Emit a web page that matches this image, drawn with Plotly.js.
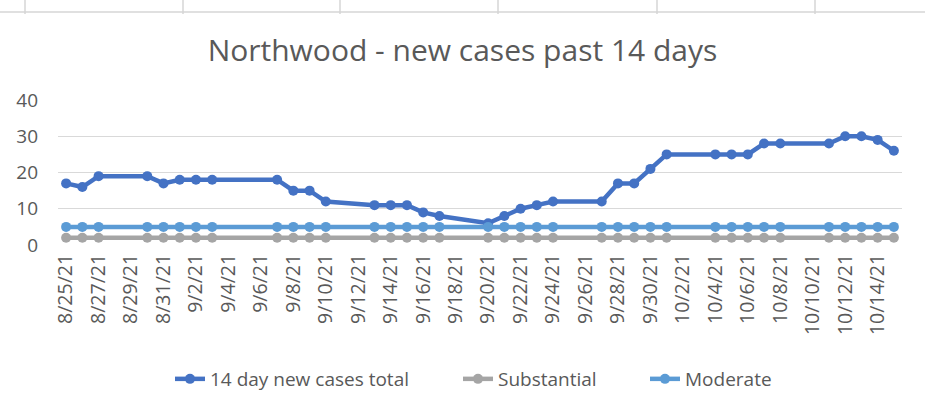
<!DOCTYPE html>
<html>
<head>
<meta charset="utf-8">
<script src="https://cdn.plot.ly/plotly-3.0.1.min.js"></script>
<style>html,body{margin:0;padding:0;background:#fff;}#chart{width:925px;height:411px;}</style>
</head>
<body>
<div id="chart"></div>
<script>
var dates = ['2021-08-25','2021-08-26','2021-08-27','2021-08-30','2021-08-31','2021-09-01','2021-09-02','2021-09-03',
  '2021-09-07','2021-09-08','2021-09-09','2021-09-10','2021-09-13','2021-09-14','2021-09-15','2021-09-16','2021-09-17',
  '2021-09-20','2021-09-21','2021-09-22','2021-09-23','2021-09-24','2021-09-27','2021-09-28','2021-09-29','2021-09-30',
  '2021-10-01','2021-10-04','2021-10-05','2021-10-06','2021-10-07','2021-10-08','2021-10-11','2021-10-12','2021-10-13',
  '2021-10-14','2021-10-15'];
var newCases = [17,16,19,19,17,18,18,18,18,15,15,12,11,11,11,9,8,6,8,10,11,12,12,17,17,21,25,25,25,25,28,28,28,30,30,29,26];
var substantial = dates.map(function(){return 2;});
var moderate = dates.map(function(){return 5;});
var seriesNames = ['14 day new cases total','Substantial','Moderate'];
var titleText = 'Northwood - new cases past 14 days';
var yTicks = [0,10,20,30,40];

var txt = '#595959';
var font = 'Open Sans, sans-serif';
function tr(y, name, color, lg){
  return {x: dates, y: y, name: name, type: 'scatter', mode: 'lines+markers', legend: lg,
    line: {color: color, width: 4.5}, marker: {color: color, size: 10}};
}
var data = [tr(newCases, seriesNames[0], '#4472C4', 'legend'), tr(substantial, seriesNames[1], '#A5A5A5', 'legend2'), tr(moderate, seriesNames[2], '#5B9BD5', 'legend3')];

function px(x){return (x-58)/844;}
function py(y){return (245-y)/145;}
var shapes = [{type:'line', xref:'paper', yref:'paper', x0:px(0), x1:px(925), y0:py(12), y1:py(12), line:{color:'#d6d6d6', width:1.5}}];
[25,183,340,498,657,815].forEach(function(v){
  shapes.push({type:'line', xref:'paper', yref:'paper', x0:px(v), x1:px(v), y0:py(0), y1:py(14), line:{color:'#d6d6d6', width:1.5}});
});
function lg(textStart){
  return {orientation: 'h', x: px(textStart - 42), xanchor: 'left', y: py(379), yanchor: 'middle',
    font: {family: font, size: 19, color: txt}, bgcolor: 'rgba(0,0,0,0)'};
}

var layout = {
  width: 925, height: 411,
  autosize: false,
  margin: {l: 58, r: 23, t: 100, b: 166, autoexpand: false},
  paper_bgcolor: '#fff', plot_bgcolor: '#fff',
  font: {family: font, color: txt, size: 19},
  title: {text: titleText, font: {family: font, size: 30, color: txt}, x: 0.5, xref: 'container', y: 1 - 50/411, yref: 'container', yanchor: 'middle'},
  xaxis: {type: 'date', range: ['2021-08-24 12:00', '2021-10-15 12:00'], tick0: '2021-08-25', dtick: 2*86400000,
    tickformat: '%-m/%-d/%y', tickangle: -90, showgrid: false, zeroline: false, showline: false, ticks: '',
    ticklabelstandoff: 4, tickfont: {family: font, size: 19.5, color: txt}, automargin: false},
  yaxis: {range: [0, 40], tickvals: yTicks, showgrid: true, gridcolor: '#d9d9d9', gridwidth: 1.3, zeroline: false,
    showline: false, ticks: '', ticklabelstandoff: 19, tickfont: {family: font, size: 19, color: txt}, automargin: false},
  legend: lg(212),
  legend2: lg(500),
  legend3: lg(687),
  shapes: shapes,
  showlegend: true
};
Plotly.newPlot('chart', data, layout, {displayModeBar: false, staticPlot: true});
</script>
</body>
</html>
